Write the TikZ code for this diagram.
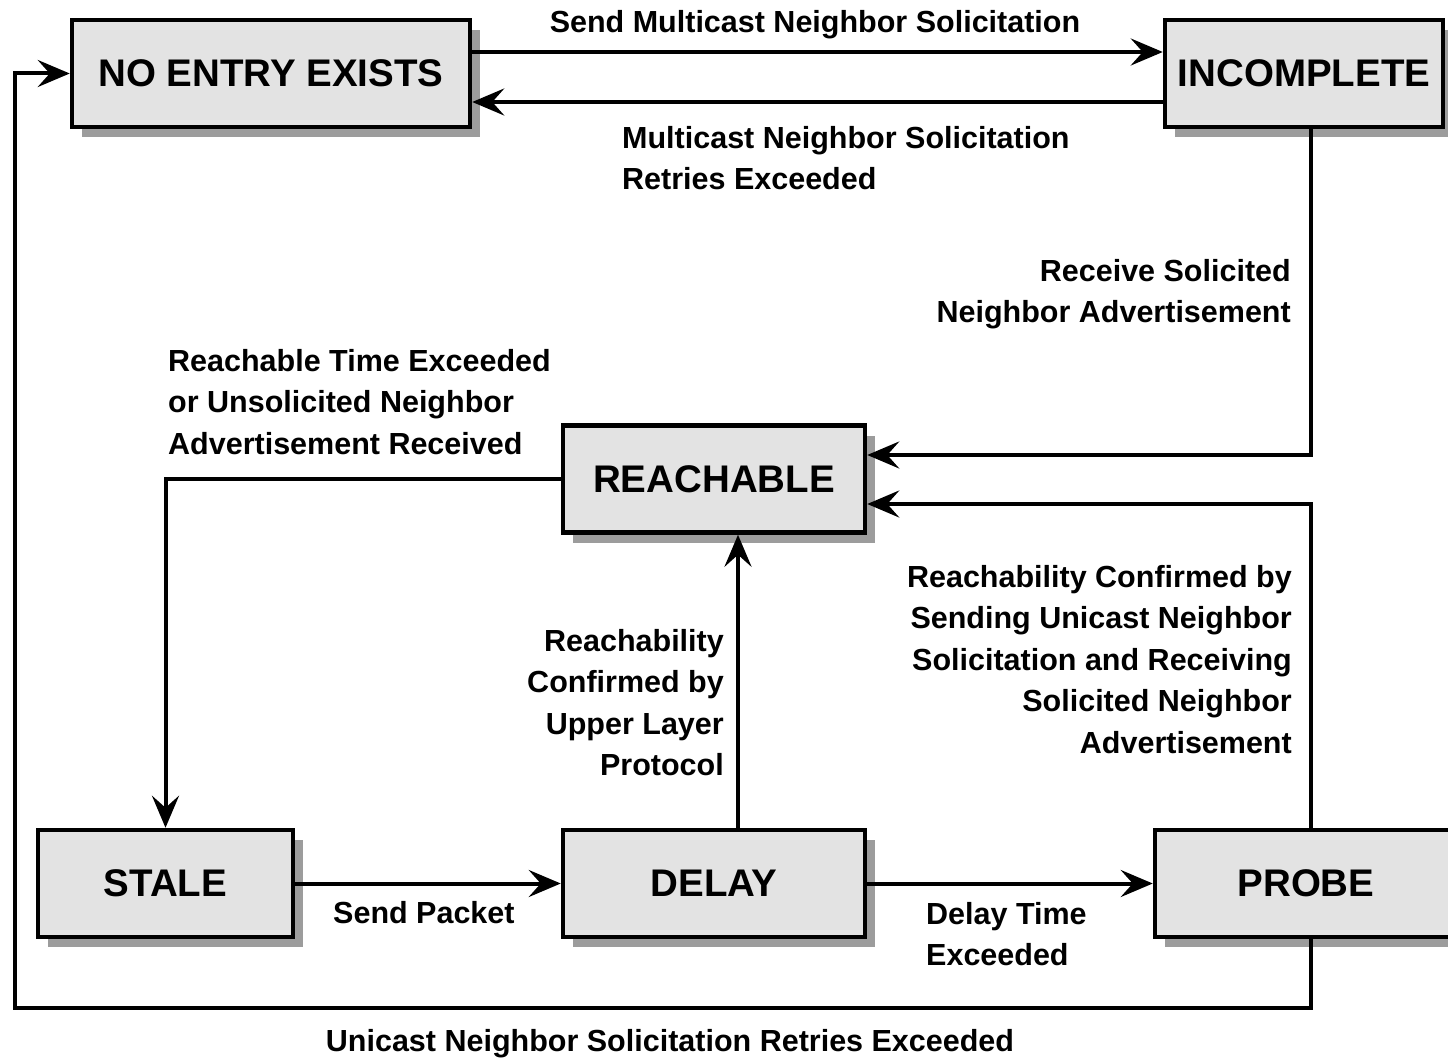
\documentclass[tikz,border=0pt]{standalone}
\usepackage{fontspec}
\setmainfont{Liberation Sans}
\usetikzlibrary{arrows.meta,shadows}
\definecolor{boxgray}{HTML}{E3E3E3}
\definecolor{shadowgray}{HTML}{9C9C9C}
\begin{document}
\begin{tikzpicture}[x=1pt,y=-1pt,
  state/.style={draw=black, line width=4.5pt, fill=boxgray, minimum height=107pt,
    inner sep=0pt, font=\fontsize{38.5}{46}\selectfont\bfseries,
    drop shadow={shadow xshift=10pt,shadow yshift=-10pt,fill=shadowgray,opacity=1}},
  link/.style={line width=4pt, -{Stealth[length=32pt,width=27pt,inset=12pt]}},
  lbl/.style={inner sep=0pt, font=\fontsize{30.5}{41.5}\selectfont\bfseries}
]
\useasboundingbox (0,0) rectangle (1448,1059);

% states
\node[state, minimum width=398pt] (noentry)    at (271,73.5)   {NO ENTRY EXISTS};
\node[state, minimum width=278pt] (incomplete) at (1304,73.5)  {INCOMPLETE};
\node[state, minimum width=302pt] (reachable)  at (714,479)    {REACHABLE};
\node[state, minimum width=255pt] (stale)      at (165.5,883.5){STALE};
\node[state, minimum width=302pt] (delay)      at (714,883.5)  {DELAY};
\node[state, minimum width=302pt] (probe)      at (1306,883.5) {PROBE};

% routing levels
\coordinate (rowA) at (0,52);
\coordinate (rowB) at (0,102);
\coordinate (rowC) at (0,455);
\coordinate (rowD) at (0,504);
\coordinate (rowE) at (0,1008);
\coordinate (colL) at (15,0);
\coordinate (colR) at (1311,0);
\coordinate (colM) at (738,0);

% transitions
\draw[link] (noentry.east |- rowA) -- (incomplete.west |- rowA);
\draw[link] (incomplete.west |- rowB) -- (noentry.east |- rowB);
\draw[link] (colR |- probe.south) -- (colR |- rowE) -- (colL |- rowE)
            -- (colL |- noentry.west) -- (noentry.west);
\draw[link] (colR |- incomplete.south) -- (colR |- rowC) -- (reachable.east |- rowC);
\draw[link] (colR |- probe.north) -- (colR |- rowD) -- (reachable.east |- rowD);
\draw[link] (reachable.west) -| (stale.north);
\draw[link] (stale.east) -- (delay.west);
\draw[link] (delay.east) -- (probe.west);
\draw[link] (colM |- delay.north) -- (colM |- reachable.south);

% transition labels
\node[lbl, anchor=base] (tSendMc) at (815,33) {Send Multicast Neighbor Solicitation};
\node[lbl, anchor=north west, align=left] (tRetries) at (622,126)
  {Multicast Neighbor Solicitation\\Retries Exceeded};
\node[lbl, anchor=north east, align=right] (tRecv) at (1291,259)
  {Receive Solicited\\Neighbor Advertisement};
\node[lbl, anchor=north west, align=left] (tReachT) at (168,349)
  {Reachable Time Exceeded\\or Unsolicited Neighbor\\Advertisement Received};
\node[lbl, anchor=north east, align=right] (tUpper) at (724,629)
  {Reachability\\Confirmed by\\Upper Layer\\Protocol};
\node[lbl, anchor=north east, align=right] (tUnicast) at (1292,565)
  {Reachability Confirmed by\\Sending Unicast Neighbor\\Solicitation and Receiving\\Solicited Neighbor\\Advertisement};
\node[lbl, anchor=base west] (tPacket) at (333,923) {Send Packet};
\node[lbl, anchor=north west, align=left] (tDelayT) at (926,902)
  {Delay Time\\Exceeded};
\node[lbl, anchor=base] (tRetryU) at (670,1051)
  {Unicast Neighbor Solicitation Retries Exceeded};
\end{tikzpicture}
\end{document}
